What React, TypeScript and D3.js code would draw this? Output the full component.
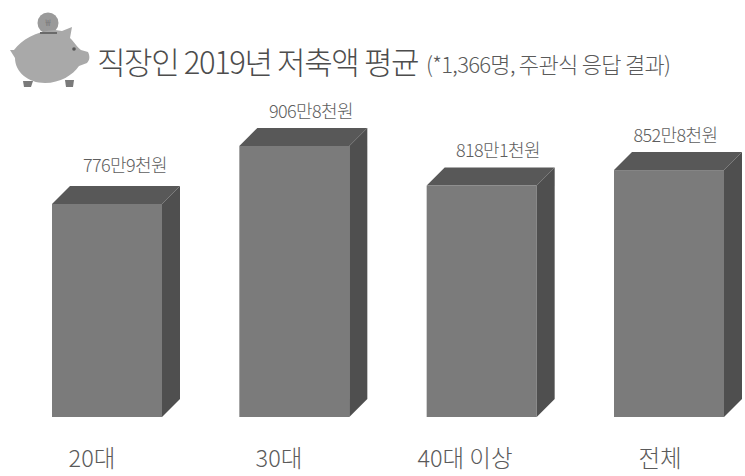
import React from "react";
import * as d3 from "d3";

const categories = ["20대", "30대", "40대 이상", "전체"];
const savings = [776.9, 906.8, 818.1, 852.8];
const valueLabels = ["776만9천원", "906만8천원", "818만1천원", "852만8천원"];
const categoryLabelX = [92, 279, 465, 660];
const valueLabelX = [125, 311, 498, 675.5];
const valueLabelY = [172, 118, 157, 142];
const titleText = "직장인 2019년 저축액 평균";
const noteText = "(*1,366명, 주관식 응답 결과)";

const FONT = "'Noto Sans CJK KR', 'Noto Sans', sans-serif";
const WIDTH = 745;
const HEIGHT = 476;
const DEPTH = 18;

const x = d3.scaleBand<string>().domain(categories).range([52, 724]).paddingInner(0.4128).paddingOuter(0);
const y = d3.scaleLinear().domain([300, 900]).range([417, 149]);

// Piggy bank with a coin dropping into its slot
function PiggyIcon() {
  const body = d3.path();
  body.moveTo(14, 50);
  body.bezierCurveTo(22, 40, 35, 31, 55, 30);
  body.lineTo(62, 31);
  body.lineTo(72, 27);
  body.lineTo(70, 38);
  body.bezierCurveTo(75, 43, 78, 48, 81, 50);
  body.lineTo(88, 52);
  body.bezierCurveTo(90, 56, 90, 60, 87, 63);
  body.lineTo(79, 66);
  body.bezierCurveTo(73, 75, 60, 83, 45, 83);
  body.bezierCurveTo(28, 83, 15, 72, 15, 58);
  body.lineTo(10, 50);
  body.closePath();
  return (
    <g>
      <circle cx={48} cy={23} r={10.5} fill="#9a9a9a" />
      <text x={48} y={26} textAnchor="middle" fontSize={9} fill="#7c7c7c" fontFamily={FONT}>₩</text>
      <path d={body.toString()} fill="#a9a9a9" />
      <rect x={40} y={32} width={17} height={2} fill="#6a6a6a" />
      <circle cx={74} cy={49} r={1.8} fill="#555" />
      <path d="M23 81 L33 81 L31 87 L24 87 Z" fill="#7a7a7a" />
      <path d="M65 80 L74 80 L73 87 L66 87 Z" fill="#7a7a7a" />
    </g>
  );
}

export default function App() {
  const barWidth = x.bandwidth();
  return (
    <svg
      width={WIDTH}
      height={HEIGHT}
      viewBox={`0 0 ${WIDTH} ${HEIGHT}`}
      style={{ position: "absolute", left: 0, top: 0, background: "#fff" }}
    >
      <PiggyIcon />
      <text x={97} y={74} fontSize={31} fontWeight={300} fill="#4d4d4d" fontFamily={FONT} letterSpacing={-1.4}>
        {titleText}
      </text>
      <text x={426} y={73} fontSize={22} fontWeight={300} fill="#5a5a5a" fontFamily={FONT} letterSpacing={-0.7}>
        {noteText}
      </text>
      {categories.map((c, i) => {
        const left = x(c)!;
        const right = left + barWidth;
        const top = y(savings[i]);
        const bottom = y.range()[0];
        const topFace = d3.line()([
          [left, top],
          [left + DEPTH, top - DEPTH],
          [right + DEPTH, top - DEPTH],
          [right, top],
        ]) + "Z";
        const sideFace = d3.line()([
          [right, top],
          [right + DEPTH, top - DEPTH],
          [right + DEPTH, bottom - DEPTH],
          [right, bottom],
        ]) + "Z";
        return (
          <g key={c}>
            <rect x={left} y={top} width={barWidth} height={bottom - top} fill="#7b7b7b" />
            <path d={topFace} fill="#585858" />
            <path d={sideFace} fill="#4f4f4f" />
            <text
              x={valueLabelX[i]}
              y={valueLabelY[i]}
              textAnchor="middle"
              fontSize={18}
              fontWeight={300}
              fill="#5e5e5e"
              fontFamily={FONT}
              letterSpacing={-0.6}
            >
              {valueLabels[i]}
            </text>
            <text
              x={categoryLabelX[i]}
              y={467}
              textAnchor="middle"
              fontSize={23.5}
              fontWeight={300}
              fill="#5a5a5a"
              fontFamily={FONT}
            >
              {c}
            </text>
          </g>
        );
      })}
    </svg>
  );
}
